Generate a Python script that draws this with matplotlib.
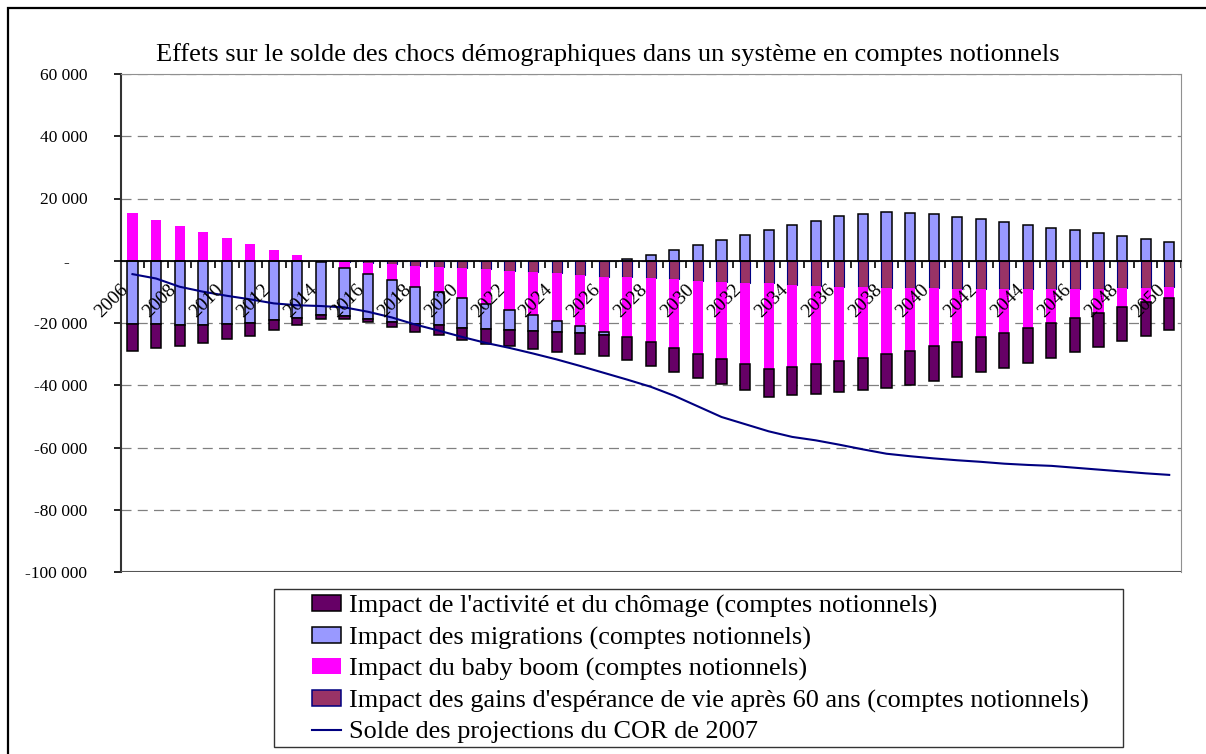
import numpy as np
import matplotlib
matplotlib.use('Agg')
import matplotlib.pyplot as plt
from matplotlib.patches import Patch, Rectangle
from matplotlib.lines import Line2D

# --- Police proche de Times New Roman ---
matplotlib.rcParams['font.family'] = 'Liberation Serif'
matplotlib.rcParams['font.size'] = 12.5

# =====================================================================
# DONNÉES
# =====================================================================
years = list(range(2006, 2051))

activite = [-8700, -7700, -6800, -5900, -4800, -4000, -3100, -2250, -1300, -900,
            -1000, -1700, -2500, -3400, -4000, -4800, -5300, -5750, -6400, -6600,
            -6900, -7250, -7650, -7650, -7900, -8150, -8250, -8900, -9200, -9650,
            -10080, -10400, -10720, -10930, -11040, -11150, -11260, -11360, -11260, -11360,
            -11040, -10930, -10930, -10830, -10500]

migrations = [-20300, -20400, -20500, -20500, -20400, -20100, -19150, -18400, -17000, -15400,
              -14450, -13500, -12000, -10400, -9400, -8100, -6400, -5200, -3700, -2250,
              -950, 600, 2000, 3600, 5150, 6750, 8250, 9860, 11360, 12860,
              14360, 15100, 15760, 15330, 14900, 14150, 13400, 12540, 11580, 10610,
              9750, 8790, 7830, 6860, 5900]

baby_boom = [15300, 13000, 11100, 9150, 7200, 5300, 3400, 1800, 0, -1800,
             -3700, -5100, -6700, -8100, -9600, -11100, -12550, -13900, -15200, -16600,
             -17650, -19250, -20500, -22000, -23500, -24760, -26050, -27440, -26370, -25080,
             -23800, -22620, -21230, -19940, -18550, -17150, -15540, -14040, -12540, -10830,
             -9330, -7720, -6110, -4610, -3430]

esperance = [0, 0, 0, 0, 0, 0, 0, 0, -500, -500,
             -600, -1070, -1600, -2100, -2450, -2750, -3200, -3500, -4050, -4450,
             -5100, -5300, -5650, -5950, -6430, -6750, -7080, -7290, -7720, -8040,
             -8360, -8580, -8790, -8900, -8900, -9000, -9100, -9100, -9100, -9100,
             -9000, -9000, -8900, -8680, -8470]

solde_cor = [-4300, -5700, -8350, -9950, -11250, -12400, -13700, -14300, -14550, -14980,
             -16400, -18200, -20500, -22450, -24500, -26400, -28000, -29800, -31700, -33800,
             -36000, -38200, -40500, -43400, -46800, -50200, -52500, -54800, -56600, -57700,
             -59100, -60600, -62000, -62800, -63500, -64100, -64600, -65200, -65600, -65900,
             -66500, -67100, -67700, -68300, -68800]

y_ticks = [60000, 40000, 20000, 0, -20000, -40000, -60000, -80000, -100000]
y_labels = ['60 000', '40 000', '20 000', '-    ', '-20 000', '-40 000', '-60 000', '-80 000', '-100 000']

labels = ["Impact de l'activité et du chômage (comptes notionnels)",
          "Impact des migrations (comptes notionnels)",
          "Impact du baby boom (comptes notionnels)",
          "Impact des gains d'espérance de vie après 60 ans (comptes notionnels)",
          "Solde des projections du COR de 2007"]

# =====================================================================
# GRAPHIQUE
# =====================================================================
W, H = 1206, 754
fig = plt.figure(figsize=(W / 100, H / 100), dpi=100)
ax = fig.add_axes([120.7 / W, 1 - 572 / H, (1181 - 120.7) / W, (572 - 74) / H])

x = np.arange(len(years))
width = 0.43

# ordre d'empilement depuis zéro : espérance, baby boom, migrations, activité
series = [
    (esperance, '#993366', '#000080', 0.8),
    (baby_boom, '#FF00FF', 'none', 0),
    (migrations, '#9999FF', 'black', 1.1),
    (activite, '#660066', 'black', 1.1),
]
pos_base = np.zeros(len(years))
neg_base = np.zeros(len(years))
for vals, fc, ec, lw in series:
    v = np.array(vals, dtype=float)
    bottom = np.where(v >= 0, pos_base, neg_base)
    ax.bar(x, v, width, bottom=bottom, color=fc, edgecolor=ec, linewidth=lw, zorder=3)
    pos_base += np.clip(v, 0, None)
    neg_base += np.clip(v, None, 0)

ax.plot(x, solde_cor, color='#000080', linewidth=1.5, zorder=4)

ax.set_xlim(-0.5, len(years) - 0.5)
ax.set_ylim(-100000, 60000)

# grille pointillée
ax.set_yticks(y_ticks)
ax.set_yticklabels(y_labels)
ax.yaxis.grid(True, color='#808080', linestyle=(0, (8, 5)), linewidth=0.9)
ax.set_axisbelow(True)
ax.tick_params(axis='y', length=5, width=1.2, pad=19, labelsize=12.5)

# axe des catégories sur la ligne zéro
ax.spines['bottom'].set_position(('data', 0))
ax.spines['bottom'].set_color('black')
ax.spines['bottom'].set_linewidth(1.3)
ax.spines['bottom'].set_zorder(5)
ax.spines['left'].set_color('#333333')
ax.spines['left'].set_linewidth(1.5)
ax.spines['top'].set_color('#909090')
ax.spines['right'].set_color('#909090')
ax.axhline(-100000, color='#555555', linewidth=1.5, zorder=5)

ax.set_xticks(np.arange(-0.5, len(years), 1))
ax.set_xticklabels([])
ax.tick_params(axis='x', length=5, width=1.2, direction='out')

for i in range(0, len(years), 2):
    ax.annotate(str(years[i]), xy=(i, 0), xytext=(-9, -14.5), textcoords='offset points',
                rotation=45, ha='right', va='top', rotation_mode='anchor',
                fontsize=14, zorder=6)

fig.text(607.5 / W, 1 - 61 / H, 'Effets sur le solde des chocs démographiques dans un système en comptes notionnels',
         ha='center', va='baseline', fontsize=19)

# légende : cadre dessiné à part, entrées placées sans cadre
handles = [Patch(facecolor='#660066', edgecolor='black', linewidth=1.1),
           Patch(facecolor='#9999FF', edgecolor='black', linewidth=1.1),
           Patch(facecolor='#FF00FF', edgecolor='none'),
           Patch(facecolor='#993366', edgecolor='#000080', linewidth=1.1),
           Line2D([], [], color='#000080', linewidth=1.5)]
fig.legend(handles, labels, loc='upper left', bbox_to_anchor=(312 / W, 1 - 595 / H),
           ncol=1, fontsize=18.9, frameon=False, borderaxespad=0, borderpad=0,
           handlelength=1.1, handleheight=0.57, handletextpad=0.3, labelspacing=0.32)
fig.patches.append(Rectangle((274 / W, 1 - 747 / H), (1123 - 274) / W, (747 - 589) / H,
                             transform=fig.transFigure, fill=False, edgecolor='#333333', linewidth=1.0))

# cadre extérieur du graphique
fig.patches.append(Rectangle((8 / W, -0.1), 1.2, 1 - 8 / H + 0.1, transform=fig.transFigure,
                             fill=False, edgecolor='black', linewidth=1.6))

plt.savefig('out.png', dpi=100)
plt.close()
